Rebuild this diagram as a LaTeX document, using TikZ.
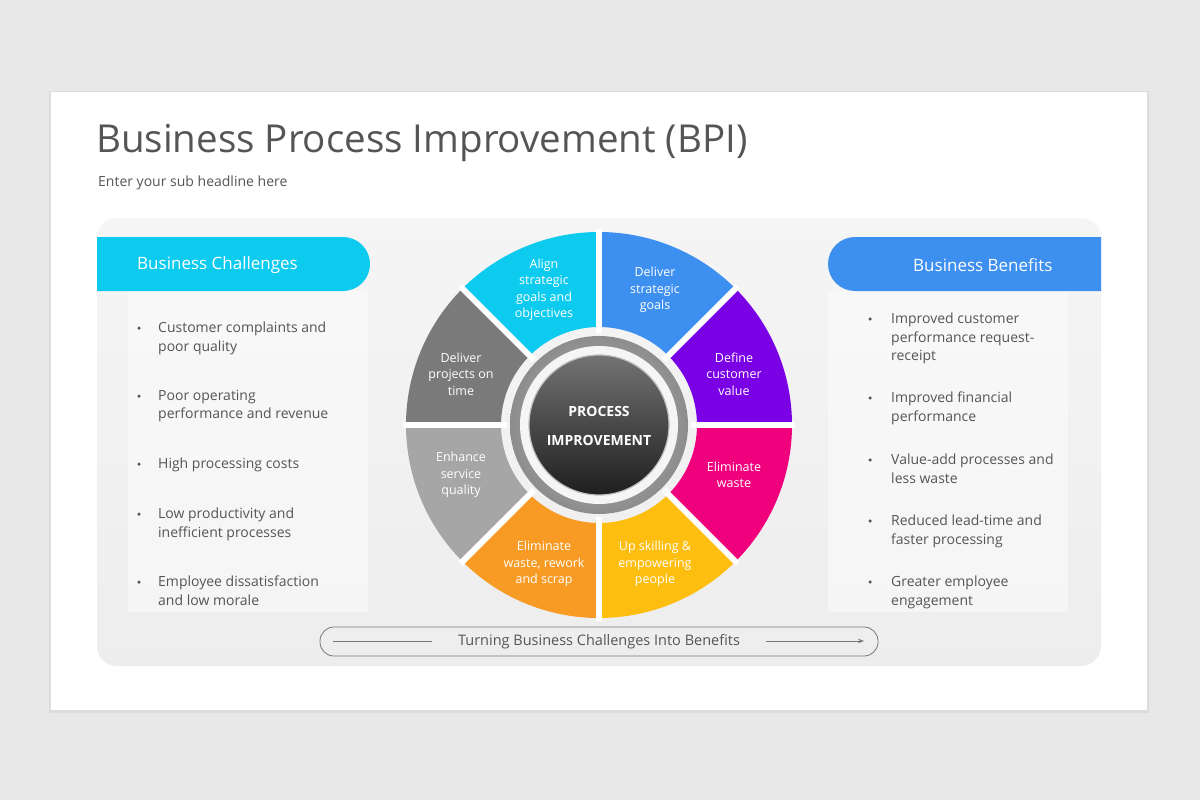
\documentclass[tikz,border=0pt]{standalone}
\usepackage{fontspec}
\setmainfont{Open Sans}
\usetikzlibrary{arrows.meta}
\definecolor{bg}{HTML}{E9E8E9}
\definecolor{txt}{HTML}{555555}
\definecolor{cyanc}{HTML}{0CCBEF}
\definecolor{bluec}{HTML}{3D8FF0}
\definecolor{purc}{HTML}{7A00E6}
\definecolor{magc}{HTML}{F0007C}
\definecolor{yelc}{HTML}{FDBE10}
\definecolor{orac}{HTML}{F79B25}
\definecolor{lgray}{HTML}{A6A6A6}
\definecolor{dgray}{HTML}{7A7A7A}
\tikzset{
 bullet/.style={anchor=north west,align=left,inner sep=0pt,text=txt,font=\fontsize{14}{18.5}\selectfont},
 dot/.style={circle,fill=txt,inner sep=0pt,minimum size=3.5pt},
 seglbl/.style={text=white,align=center,font=\fontsize{12.5}{16.5}\selectfont,inner sep=0pt},
 hdr/.style={text=white,font=\fontsize{17}{20}\selectfont,inner sep=0pt}
}
\begin{document}
\begin{tikzpicture}[x=1pt,y=-1pt]
\fill[bg] (0,0) rectangle (1200,800);
\useasboundingbox (0,0) rectangle (1200,800);
\fill[black,opacity=0.05] (49,91) rectangle (1149,713);
\fill[white] (51,92) rectangle (1147,710);
\node[anchor=west,inner sep=0pt,text=txt,font=\fontsize{38.5}{40}\selectfont] (title) at (96,143) {Business Process Improvement (BPI)};
\node[anchor=west,inner sep=0pt,text=txt,font=\fontsize{14}{16}\selectfont] (sub) at (98,183) {Enter your sub headline here};
\shade[top color=white!96!black,bottom color=white!93!black,rounded corners=20pt] (97,218) rectangle (1101,666);
% list boxes
\fill[white,opacity=0.45] (128,291) rectangle (368,612);
\fill[white,opacity=0.45] (828,291) rectangle (1068,612);
% headers
\fill[cyanc] (97,237) -- (343,237) arc (-90:90:27) -- (97,291) -- cycle;
\node[hdr,anchor=west] (lh) at (137,265) {Business Challenges};
\fill[bluec] (1101,237) -- (855,237) arc (-90:-270:27) -- (1101,291) -- cycle;
\node[hdr,anchor=west] (rh) at (913,265) {Business Benefits};
% left bullets
\foreach \y/\t in {322/{Customer complaints and\\poor quality},390/{Poor operating\\performance and revenue},458/{High processing costs},508/{Low productivity and\\inefficient processes},576/{Employee dissatisfaction\\and low morale}}{
 \node[dot] at (139,\y+6) {};
 \node[bullet] at (158,\y) {\t};
}
\foreach \y/\t in {313/{Improved customer\\performance request-\\receipt},392/{Improved financial\\performance},454/{Value-add processes and\\less waste},515/{Reduced lead-time and\\faster processing},576/{Greater employee\\engagement}}{
 \node[dot] at (870,\y+6) {};
 \node[bullet] at (891,\y) {\t};
}
% wheel
\begin{scope}[shift={(599,425)},yscale=-1]
\foreach \a/\c in {90/bluec,45/purc,0/magc,-45/yelc,-90/orac,-135/lgray,180/dgray,135/cyanc}{
 \fill[\c] (\a:193) arc (\a:\a-45:193) -- (\a-45:98) arc (\a-45:\a:98) -- cycle;
}
\foreach \a in {0,45,90,135}{
 \draw[white,line width=6pt] (\a:92) -- (\a:196);
 \draw[white,line width=6pt] (\a+180:92) -- (\a+180:196);
}
\shade[inner color=white!75!black,outer color=white!55!black] (0,0) circle (89);
\fill[white!96!black] (0,0) circle (79);
\shade[top color=white!45!black,bottom color=white!12!black,draw=white!75!black,line width=1.2pt] (0,0) circle (70);
\end{scope}
\node[seglbl,font=\bfseries\fontsize{14}{16}\selectfont] (c1) at (599,411) {PROCESS};
\node[seglbl,font=\bfseries\fontsize{14}{16}\selectfont] (c2) at (599,440) {IMPROVEMENT};
\node[seglbl] (s1) at (655,290) {Deliver\\strategic\\goals};
\node[seglbl] (s2) at (734,374) {Define\\customer\\value};
\node[seglbl] (s3) at (734,475) {Eliminate\\waste};
\node[seglbl] (s4) at (655,564) {Up skilling \&\\empowering\\people};
\node[seglbl] (s5) at (544,564) {Eliminate\\waste, rework\\and scrap};
\node[seglbl] (s6) at (461,475) {Enhance\\service\\quality};
\node[seglbl] (s7) at (461,374) {Deliver\\projects on\\time};
\node[seglbl] (s8) at (544,290) {Align\\strategic\\goals and\\objectives};
% bottom arrow box
\draw[txt!80,line width=0.8pt,rounded corners=14pt] (320,627) rectangle (878,656);
\node[text=txt,font=\fontsize{14.5}{16}\selectfont,inner sep=0pt] (bt) at (599,642) {Turning Business Challenges Into Benefits};
\coordinate (la) at (333,641);
\coordinate (lb) at (432,641);
\coordinate (ra) at (766,641);
\coordinate (rb) at (864,641);
\draw[txt!80,line width=0.8pt] (la) -- (lb);
\draw[txt!80,line width=0.8pt,-{Stealth[length=6pt]}] (ra) -- (rb);
\end{tikzpicture}
\end{document}
